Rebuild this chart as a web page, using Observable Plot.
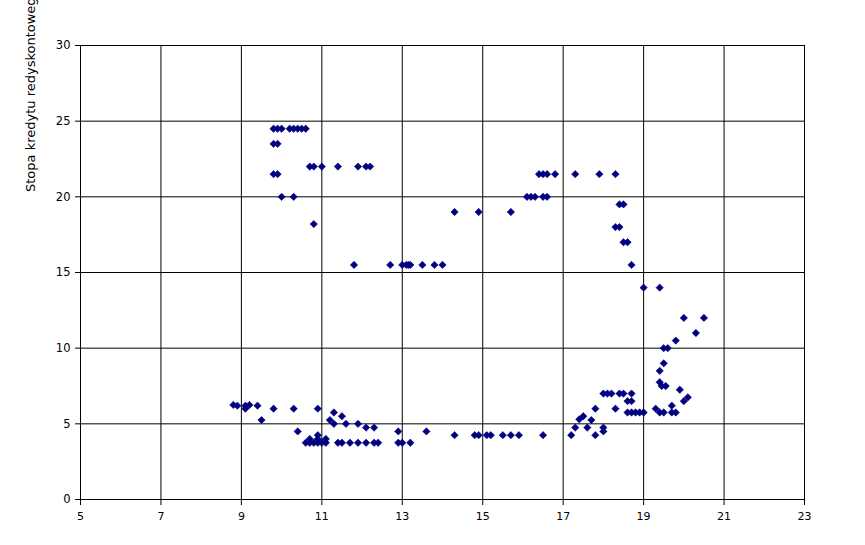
<!DOCTYPE html>
<html>
<head>
<meta charset="utf-8">
<script src="https://cdn.jsdelivr.net/npm/d3@7"></script>
<script src="https://cdn.jsdelivr.net/npm/@observablehq/plot@0.6"></script>
<style>
  html, body { margin: 0; padding: 0; background: #fff; }
  #chart { width: 865px; height: 545px; overflow: hidden; }
</style>
</head>
<body>
<div id="chart"></div>
<script>
// Inflation (x) and rediscount rate (y)
const xVals = [
  9.8, 9.9, 10.0, 10.2, 10.3, 10.4, 10.5, 10.6,
  9.8, 9.9, 9.8, 9.9,
  10.7, 10.8, 11.0, 11.4, 11.9, 12.1, 12.2,
  10.0, 10.3, 10.8,
  11.8, 12.7, 13.0, 13.1, 13.15, 13.2, 13.5, 13.8, 14.0,
  14.3, 14.9, 15.7,
  16.1, 16.2, 16.3, 16.5, 16.6,
  16.4, 16.5, 16.6, 16.8, 17.3, 17.9, 18.3,
  18.4, 18.5, 18.3, 18.4, 18.5, 18.6, 18.7,
  19.0, 19.4, 20.0, 20.5, 20.3, 19.8, 19.5, 19.6, 19.5, 19.4, 19.4, 19.45, 19.55, 19.9,
  18.0, 18.1, 18.2, 18.4, 18.5, 18.7,
  18.6, 18.7, 20.1, 20.0, 19.7,
  17.8, 18.3, 19.3,
  18.6, 18.7, 18.8, 18.9, 19.0, 19.4, 19.5, 19.7, 19.8,
  17.5, 17.4, 17.7,
  17.3, 17.6, 18.0, 18.0, 17.2, 17.8,
  13.6,
  14.3, 14.8, 14.9, 15.1, 15.2, 15.5, 15.7, 15.9, 16.5,
  8.8, 8.9, 9.1, 9.1, 9.2, 9.4,
  9.5, 9.8, 10.3, 10.9, 10.4,
  10.6, 10.7, 10.8, 10.9, 11.0, 11.1,
  10.7, 10.9, 11.1, 10.9,
  11.2, 11.3, 11.3, 11.5, 11.6, 11.9, 12.1, 12.3,
  11.4, 11.5, 11.7, 11.9, 12.1, 12.3, 12.4,
  12.9, 12.9, 13.0, 13.2
];
const yVals = [
  24.5, 24.5, 24.5, 24.5, 24.5, 24.5, 24.5, 24.5,
  23.5, 23.5, 21.5, 21.5,
  22, 22, 22, 22, 22, 22, 22,
  20, 20, 18.2,
  15.5, 15.5, 15.5, 15.5, 15.5, 15.5, 15.5, 15.5, 15.5,
  19, 19, 19,
  20, 20, 20, 20, 20,
  21.5, 21.5, 21.5, 21.5, 21.5, 21.5, 21.5,
  19.5, 19.5, 18, 18, 17, 17, 15.5,
  14, 14, 12, 12, 11, 10.5, 10, 10, 9, 8.5, 7.75, 7.5, 7.5, 7.25,
  7, 7, 7, 7, 7, 7,
  6.5, 6.5, 6.75, 6.5, 6.2,
  6, 6, 6,
  5.75, 5.75, 5.75, 5.75, 5.75, 5.75, 5.75, 5.75, 5.75,
  5.5, 5.3, 5.25,
  4.75, 4.75, 4.75, 4.5, 4.25, 4.25,
  4.5,
  4.25, 4.25, 4.25, 4.25, 4.25, 4.25, 4.25, 4.25, 4.25,
  6.25, 6.2, 6.2, 6.0, 6.25, 6.2,
  5.25, 6, 6, 6, 4.5,
  3.75, 3.75, 3.75, 3.75, 3.75, 3.75,
  4.0, 4.0, 4.0, 4.25,
  5.25, 5.75, 5.0, 5.5, 5.0, 5.0, 4.75, 4.75,
  3.75, 3.75, 3.75, 3.75, 3.75, 3.75, 3.75,
  4.5, 3.75, 3.75, 3.75
];
const xTicks = [5, 7, 9, 11, 13, 15, 17, 19, 21, 23];
const yTicks = [0, 5, 10, 15, 20, 25, 30];
const yTitle = "Stopa kredytu redyskontowego";

const points = xVals.map((x, i) => ({x, y: yVals[i]}));

const plot = Plot.plot({
  width: 865,
  height: 545,
  marginLeft: 80,
  marginRight: 61,
  marginTop: 45,
  marginBottom: 46,
  style: {fontFamily: "DejaVu Sans", color: "black", background: "white"},
  x: {domain: [5, 23]},
  y: {domain: [0, 30]},
  marks: [
    Plot.ruleX(xTicks, {stroke: "black", strokeWidth: 1}),
    Plot.ruleY(yTicks, {stroke: "black", strokeWidth: 1}),
    Plot.axisX(xTicks, {tickSize: 6, tickPadding: 7, fontSize: 11, label: null}),
    Plot.axisY(yTicks, {tickSize: 5, tickPadding: 5, fontSize: 11.5, label: null}),
    Plot.dot(points, {x: "x", y: "y", symbol: "diamond2", r: 3.3, fill: "#000080", stroke: "#000080", strokeWidth: 0.6})
  ]
});

d3.select(plot).append("text")
  .attr("transform", "translate(35,192) rotate(-90)")
  .attr("text-anchor", "start")
  .attr("font-family", "DejaVu Sans")
  .attr("font-size", 13)
  .attr("fill", "black")
  .text(yTitle);

document.getElementById("chart").appendChild(plot);
</script>
</body>
</html>
